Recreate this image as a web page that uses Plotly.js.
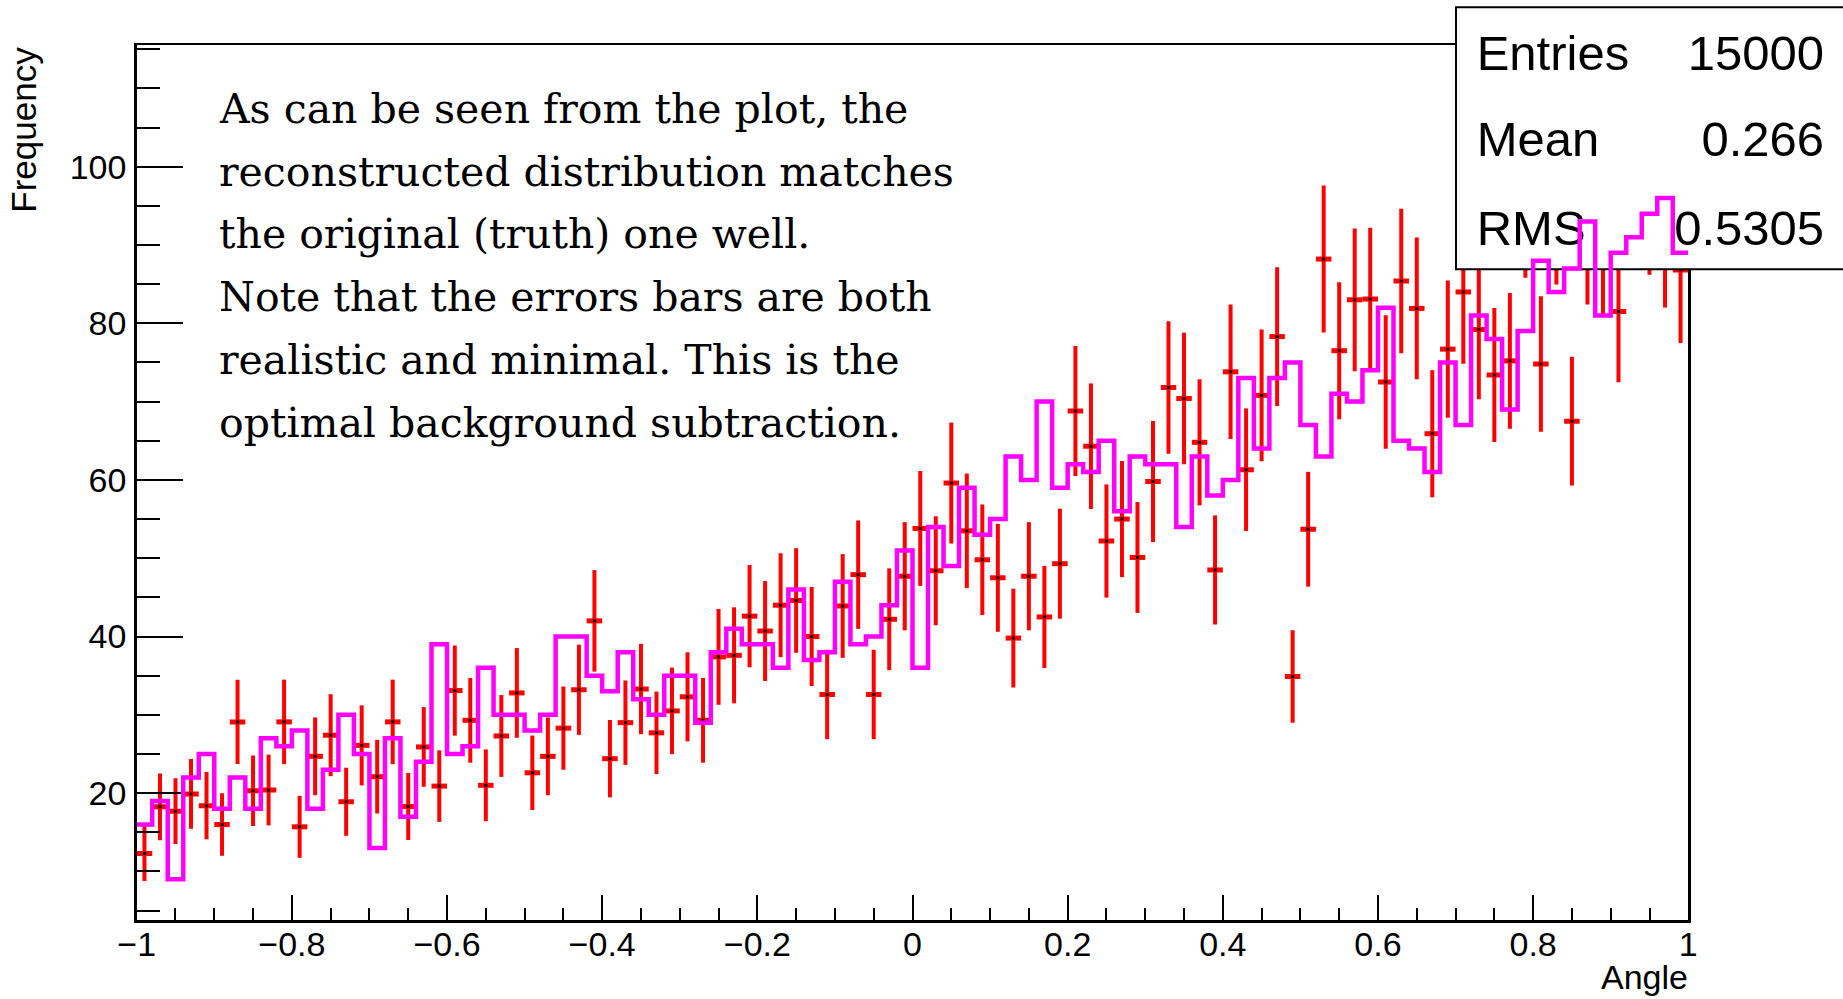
<!DOCTYPE html>
<html><head><meta charset="utf-8">
<script src="https://cdn.plot.ly/plotly-3.0.1.min.js"></script>
<style>html,body{margin:0;padding:0;background:#fff;}#chart{width:1843px;height:999px;}</style>
</head><body><div id="chart"></div>
<script>
// ---- data ----
const xMin = -1, xMax = 1;
const reco = [12.3, 18.25, 17.7, 19.9, 18.4, 16.0, 29.1, 20.3, 20.4, 29.1,
  15.7, 24.7, 27.4, 18.9, 26.1, 22.1, 29.1, 18.3, 25.9, 20.9,
  33.1, 29.3, 21.0, 27.3, 32.8, 22.6, 24.7, 28.3, 33.2, 42.0,
  24.4, 29.0, 33.3, 27.7, 30.5, 32.3, 29.3, 37.4, 37.6, 42.6,
  40.7, 44.0, 44.6, 40.0, 32.6, 43.9, 47.9, 32.6, 42.2, 47.7,
  53.8, 48.4, 59.6, 53.5, 49.8, 47.5, 39.8, 47.7, 42.5, 49.3,
  68.8, 64.3, 52.2, 55.0, 50.1, 59.8, 71.8, 70.4, 64.8, 48.5,
  73.8, 61.3, 70.8, 78.3, 34.9, 53.7, 88.2, 76.5, 83.0, 83.1,
  72.5, 85.4, 81.9, 65.9, 76.7, 84.0, 79.2, 73.4, 75.2, 95.6,
  74.8, 94.7, 67.5, 92.0, 90.7, 81.5, 97.0, 96.0, 91.6, 86.8];
const truth = [16, 19, 9, 22, 25, 18, 22, 18, 27, 26,
  28, 18, 23, 30, 25, 13, 27, 17, 24, 39,
  25, 26, 36, 30, 30, 28, 30, 40, 40, 35,
  33, 38, 32, 30, 35, 35, 29, 38, 41, 39,
  39, 36, 46, 37, 38, 47, 39, 40, 44, 51,
  36, 54, 49, 59, 53, 55, 63, 60, 70, 59,
  62, 61, 65, 56, 63, 62, 62, 54, 63, 58,
  60, 73, 64, 73, 75, 67, 63, 71, 70, 74,
  82, 65, 64, 61, 75, 67, 81, 78, 69, 79,
  88, 84, 87, 93, 81, 89, 91, 94, 96, 89];
const statLabels = ["Entries", "Mean", "RMS"];
const statValues = ["15000", "0.266", "0.5305"];
const noteLines = [
  "As can be seen from the plot, the",
  "reconstructed distribution matches",
  "the original (truth) one well.",
  "Note that the errors bars are both",
  "realistic and minimal. This is the",
  "optimal background subtraction."
];
const xTitle = "Angle", yTitle = "Frequency";

// ---- derived bin geometry ----
const nBins = reco.length;
const binW = (xMax - xMin) / nBins;
const centers = reco.map((_, i) => xMin + binW * (i + 0.5));
const edges = truth.map((_, i) => xMin + binW * i).concat([xMax]);
const truthSteps = truth.concat([truth[truth.length - 1]]);

// ---- page geometry (pixels) ----
const W = 1843, H = 999;
const pL = 136.7, pR = 1688.3, pT = 45.3, pB = 920;
const yRange = [3.8, 115.5];
const px = v => v / W, py = v => 1 - v / H;
const sans = "Liberation Sans, Arial, Helvetica, sans-serif";
const statRowsY = [57.5, 144, 232.5];

const traces = [
  {
    type: 'scatter', mode: 'markers', x: centers, y: reco,
    xaxis: 'x', yaxis: 'y',
    marker: {symbol: 'square', size: 3, color: '#000000', line: {width: 0}},
    error_y: {type: 'sqrt', thickness: 4, width: 0, color: '#ff0000'},
    error_x: {type: 'constant', value: binW / 2, thickness: 5, width: 0, color: '#ff0000'},
    hoverinfo: 'x+y', showlegend: false
  },
  {
    type: 'scatter', mode: 'text', xaxis: 'x2', yaxis: 'y2',
    x: statLabels.map(() => 1476.7), y: statRowsY,
    text: statLabels, textposition: 'middle right',
    textfont: {family: sans, size: 49, color: '#000'},
    hoverinfo: 'skip', showlegend: false
  },
  {
    type: 'scatter', mode: 'text', xaxis: 'x2', yaxis: 'y2',
    x: statValues.map(() => 1824), y: statRowsY,
    text: statValues, textposition: 'middle left',
    textfont: {family: sans, size: 49, color: '#000'},
    hoverinfo: 'skip', showlegend: false
  },
  {
    type: 'scatter', mode: 'lines', x: edges, y: truthSteps,
    xaxis: 'x3', yaxis: 'y3',
    line: {shape: 'hv', color: '#ff00ff', width: 4.5},
    hoverinfo: 'x+y', showlegend: false
  }
];

const xDom = [pL / W, pR / W];
const yDom = [1 - pB / H, 1 - pT / H];

const annotations = noteLines.map((t, i) => ({
  text: t, xref: 'paper', yref: 'paper', x: px(218), y: py(123.3 + i * 62.7 - 14.2),
  xanchor: 'left', yanchor: 'middle', showarrow: false, borderpad: 0,
  font: {family: 'DejaVu Serif, serif', size: 41, color: '#000'}
}));
annotations.push({
  text: yTitle, xref: 'paper', yref: 'paper', x: px(23.4), y: py(pT),
  xanchor: 'center', yanchor: 'top', textangle: -90, showarrow: false, borderpad: 0,
  font: {family: sans, size: 35, color: '#000'}
});
annotations.push({
  text: xTitle, xref: 'paper', yref: 'paper', x: px(1689), y: py(997),
  xanchor: 'right', yanchor: 'bottom', showarrow: false, borderpad: 0,
  font: {family: sans, size: 34, color: '#000'}
});

const layout = {
  width: W, height: H, autosize: false,
  margin: {l: 0, r: 0, t: 0, b: 0, pad: 0},
  paper_bgcolor: '#ffffff', plot_bgcolor: 'rgba(0,0,0,0)',
  showlegend: false,
  xaxis: {
    domain: xDom, range: [xMin, xMax], anchor: 'y',
    showline: true, linecolor: '#000', linewidth: 2.5, mirror: true,
    ticks: 'inside', ticklen: 25, tickwidth: 2, tickcolor: '#000',
    tick0: -1, dtick: 0.2, showgrid: false, zeroline: false,
    minor: {ticks: 'inside', dtick: 0.05, ticklen: 12, tickwidth: 2, tickcolor: '#000', showgrid: false},
    tickfont: {family: sans, size: 34, color: '#000'}, ticklabelstandoff: -7
  },
  yaxis: {
    domain: yDom, range: yRange, anchor: 'x',
    showline: true, linecolor: '#000', linewidth: 2.5, mirror: true,
    ticks: 'inside', ticklen: 46, tickwidth: 2, tickcolor: '#000',
    tick0: 0, dtick: 20, showgrid: false, zeroline: false,
    minor: {ticks: 'inside', dtick: 5, ticklen: 23, tickwidth: 2, tickcolor: '#000', showgrid: false},
    tickfont: {family: sans, size: 34, color: '#000'}, ticklabelstandoff: 1
  },
  xaxis2: {domain: [0, 1], range: [0, W], anchor: 'y2', visible: false, fixedrange: true},
  yaxis2: {domain: [0, 1], range: [H, 0], anchor: 'x2', visible: false, fixedrange: true},
  xaxis3: {domain: xDom, range: [xMin, xMax], anchor: 'y3', visible: false},
  yaxis3: {domain: yDom, range: yRange, anchor: 'x3', visible: false},
  shapes: [{
    type: 'rect', xref: 'x2', yref: 'y2', layer: 'below',
    x0: 1456, x1: 1850, y0: 7.3, y1: 269.3,
    fillcolor: '#ffffff', line: {color: '#000', width: 2}
  }],
  annotations: annotations
};

Plotly.newPlot('chart', traces, layout, {displayModeBar: false, staticPlot: true});
</script>
</body></html>
